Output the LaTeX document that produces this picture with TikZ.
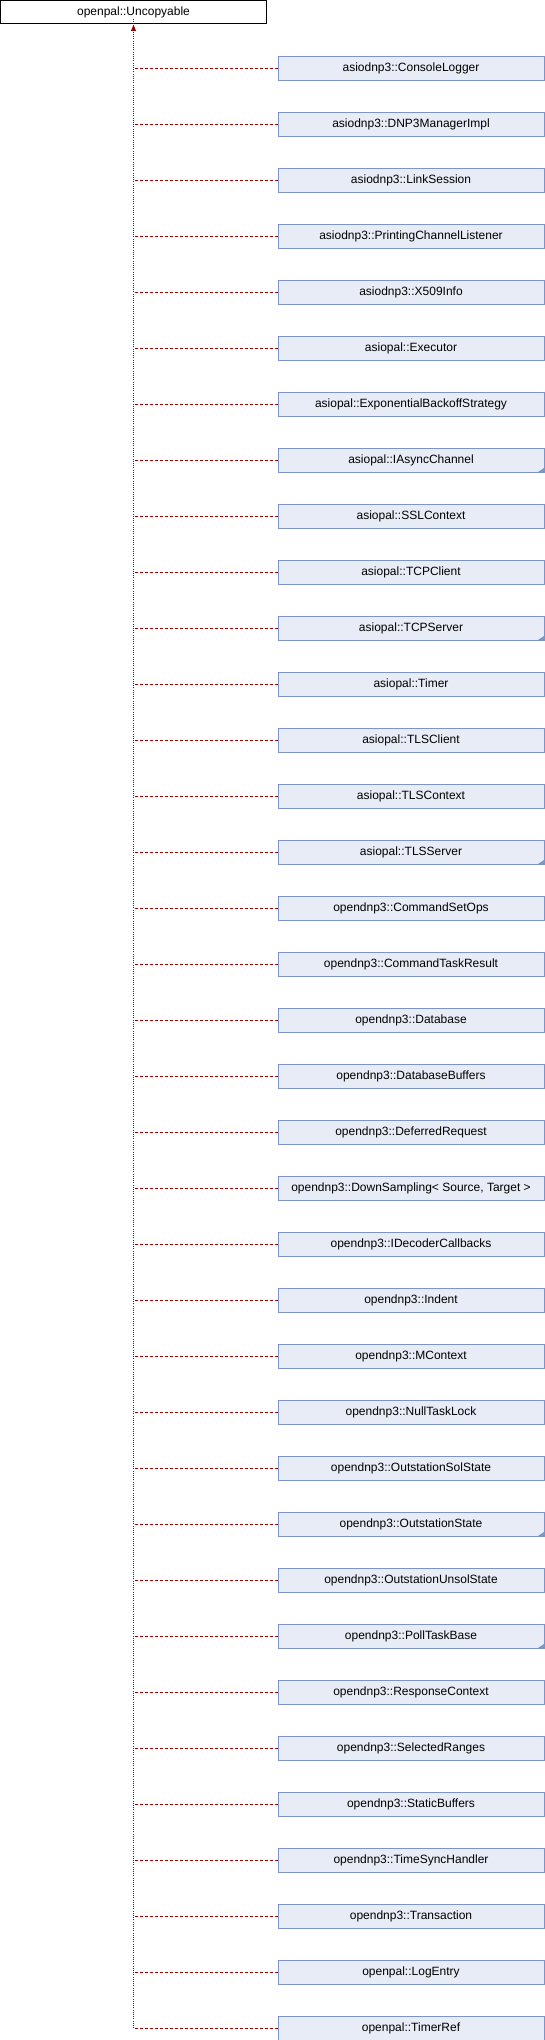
\documentclass[tikz,border=0pt]{standalone}
\usepackage{fontspec}
\setmainfont{Liberation Sans}
\usetikzlibrary{arrows.meta}
\definecolor{boxfill}{HTML}{E8ECF6}
\definecolor{boxline}{HTML}{7C95C8}
\definecolor{edgered}{HTML}{990000}
\tikzset{
  basebox/.style={draw=black, fill=white, line width=1pt, inner sep=0pt,
    minimum width=266pt, minimum height=23.5pt, font=\fontsize{12pt}{14pt}\selectfont},
  classbox/.style={draw=boxline, fill=boxfill, line width=1pt, inner sep=0pt,
    minimum width=266pt, minimum height=23.5pt, anchor=north west,
    font=\fontsize{12pt}{14pt}\selectfont},
  branch/.style={draw=edgered, line width=1pt, dash pattern=on 3pt off 2pt},
  trunk/.style={draw=edgered, line width=1pt, dash pattern=on 1pt off 1.2pt},
  marker/.style={fill=boxline},
}
\begin{document}
\begin{tikzpicture}[x=1pt,y=-1pt]
\useasboundingbox (0,0) rectangle (544,2040);
\node[basebox] (base) at (133.5,12) {openpal::Uncopyable};
\foreach \name [count=\i from 0] in {
  asiodnp3::ConsoleLogger,
  asiodnp3::DNP3ManagerImpl,
  asiodnp3::LinkSession,
  asiodnp3::PrintingChannelListener,
  asiodnp3::X509Info,
  asiopal::Executor,
  asiopal::ExponentialBackoffStrategy,
  asiopal::IAsyncChannel,
  asiopal::SSLContext,
  asiopal::TCPClient,
  asiopal::TCPServer,
  asiopal::Timer,
  asiopal::TLSClient,
  asiopal::TLSContext,
  asiopal::TLSServer,
  opendnp3::CommandSetOps,
  opendnp3::CommandTaskResult,
  opendnp3::Database,
  opendnp3::DatabaseBuffers,
  opendnp3::DeferredRequest,
  {opendnp3::DownSampling< Source, Target >},
  opendnp3::IDecoderCallbacks,
  opendnp3::Indent,
  opendnp3::MContext,
  opendnp3::NullTaskLock,
  opendnp3::OutstationSolState,
  opendnp3::OutstationState,
  opendnp3::OutstationUnsolState,
  opendnp3::PollTaskBase,
  opendnp3::ResponseContext,
  opendnp3::SelectedRanges,
  opendnp3::StaticBuffers,
  opendnp3::TimeSyncHandler,
  opendnp3::Transaction,
  openpal::LogEntry,
  openpal::TimerRef}
{
  \node[classbox] (c\i) at (277.5,{56+56*\i}) {\name};
  \coordinate (j\i) at (base.south |- c\i.west);
  \draw[branch] (c\i.west) -- (j\i);
}
% truncated-subtree markers
\foreach \i in {7,10,14,26,28} {
  \fill[marker] (c\i.south east) ++(-0.5,-0.5) -- ++(0,-4) -- ++(-6,4) -- cycle;
}
\draw[trunk] (j35) -- ([yshift=6pt]base.south);
\fill[edgered] (base.south) ++(0,0.5) -- ++(2.5,6) -- ++(-5,0) -- cycle;
\end{tikzpicture}
\end{document}
